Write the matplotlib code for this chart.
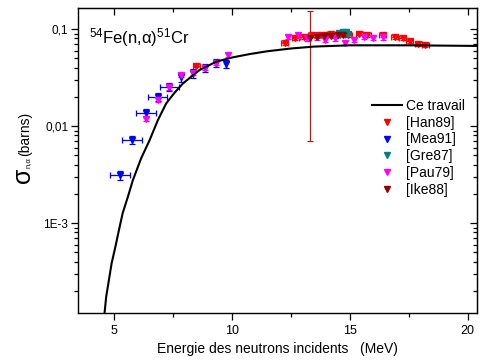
import numpy as np
import matplotlib
matplotlib.use('Agg')
import matplotlib.pyplot as plt
import matplotlib.ticker as ticker
from matplotlib.lines import Line2D

plt.rcParams['font.family'] = ['Liberation Sans', 'DejaVu Sans']
plt.rcParams['mathtext.default'] = 'regular'

# model curve (Ce travail)
curve_e = [4.62, 4.69, 4.92, 5.08, 5.23, 5.39, 5.61, 5.82, 6.17, 6.53, 6.88, 7.23, 7.58,
           7.94, 8.64, 9.35, 10.05, 10.76, 11.5, 12.5, 13.5, 15.0, 17.5, 20.4]
curve_s = [1.18e-4, 1.74e-4, 3.85e-4, 5.7e-4, 8.47e-4, 1.27e-3, 1.87e-3, 2.77e-3, 4.65e-3,
           7.17e-3, 0.01153, 0.0171, 0.0220, 0.0275, 0.0378, 0.0461, 0.0511, 0.0552,
           0.059, 0.063, 0.066, 0.068, 0.068, 0.067]

# [Han89]
han_e = [8.50, 12.25, 12.70, 13.05, 13.40, 13.70, 13.95, 14.20, 14.45, 14.70, 14.95,
         15.40, 15.75, 16.40, 16.90, 17.25, 17.55, 17.90, 18.20]
han_s = [0.042, 0.071, 0.080, 0.083, 0.086, 0.087, 0.086, 0.088, 0.087, 0.089, 0.086,
         0.090, 0.087, 0.087, 0.083, 0.080, 0.075, 0.070, 0.068]

# [Mea91]
mea_e = [5.28, 5.79, 6.38, 6.88, 7.37, 7.87, 8.36, 8.86, 9.35, 9.77]
mea_s = [0.0031, 0.0072, 0.0137, 0.020, 0.0254, 0.032, 0.035, 0.040, 0.045, 0.044]
mea_xerr = [0.42, 0.42, 0.42, 0.40, 0.42, 0.0, 0.0, 0.0, 0.0, 0.0]

# [Gre87]
gre_e = [14.55, 14.70, 14.85, 14.95]
gre_s = [0.091, 0.094, 0.093, 0.090]

# [Pau79]
pau_e = [6.38, 6.88, 7.37, 7.87, 8.36, 8.86, 9.35, 9.84,
         12.40, 12.80, 13.20, 13.60, 13.97, 14.40, 14.79, 15.20, 15.60, 15.99, 16.40]
pau_s = [0.0118, 0.0185, 0.025, 0.0336, 0.0355, 0.040, 0.045, 0.054,
         0.083, 0.086, 0.080, 0.082, 0.078, 0.080, 0.072, 0.077, 0.083, 0.081, 0.082]

# [Ike88]
ike_e = [13.34, 13.60, 13.90, 14.20, 14.50, 14.70]
ike_s = [0.080, 0.083, 0.084, 0.085, 0.086, 0.087]
ike_yerr = [0.073, 0.003, 0.003, 0.003, 0.003, 0.003]

colors = ['#ff0000', '#0000ff', '#008080', '#ff00ff', '#8b0000']

fig = plt.figure(figsize=(4.82, 3.62), dpi=100)
ax = fig.add_axes([0.162, 0.135, 0.828, 0.843])

ax.plot(curve_e, curve_s, color='black', lw=1.5, zorder=5)

ms = 4.6
eb = dict(fmt='v', ms=ms, capsize=2, elinewidth=0.9, capthick=0.9, zorder=4)
ax.errorbar(han_e, han_s, xerr=0.15, yerr=np.array(han_s) * 0.04, color=colors[0], **eb)
ax.errorbar(mea_e, mea_s, xerr=mea_xerr, yerr=np.array(mea_s) * 0.1, color=colors[1], **eb)
ax.errorbar(gre_e, gre_s, xerr=0.1, yerr=np.array(gre_s) * 0.04, color=colors[2], **eb)
ax.errorbar(pau_e, pau_s, yerr=np.array(pau_s) * 0.05, color=colors[3], **eb)
ax.errorbar(ike_e, ike_s, yerr=ike_yerr, color=colors[4], ecolor='#a52020', **eb)

ax.set_yscale('log')
ax.set_xlim(3.5, 20.4)
ax.set_ylim(1.18e-4, 0.165)

ax.xaxis.set_major_locator(ticker.FixedLocator([5, 10, 15, 20]))
ax.xaxis.set_minor_locator(ticker.FixedLocator([7.5, 12.5, 17.5]))
ax.yaxis.set_major_locator(ticker.FixedLocator([1e-3, 1e-2, 1e-1]))
ax.yaxis.set_major_formatter(ticker.FixedFormatter(['1E-3', '0,01', '0,1']))
ax.yaxis.set_minor_locator(ticker.LogLocator(subs=np.arange(2, 10)))
ax.yaxis.set_minor_formatter(ticker.NullFormatter())
ax.tick_params(which='major', direction='out', length=5, width=0.9, labelsize=9)
ax.tick_params(which='minor', direction='out', length=3, width=0.9)
ax.tick_params(axis='y', labelsize=8.5, pad=2)

top = ax.secondary_xaxis('top')
top.xaxis.set_major_locator(ticker.FixedLocator([5, 10, 15, 20]))
top.xaxis.set_minor_locator(ticker.FixedLocator([7.5, 12.5, 17.5]))
top.tick_params(which='major', direction='in', length=5, width=0.9, labeltop=False)
top.tick_params(which='minor', direction='in', length=3, width=0.9)
right = ax.secondary_yaxis('right')
right.yaxis.set_major_locator(ticker.FixedLocator([1e-3, 1e-2, 1e-1]))
right.yaxis.set_minor_locator(ticker.LogLocator(subs=np.arange(2, 10)))
right.yaxis.set_minor_formatter(ticker.NullFormatter())
right.tick_params(which='major', direction='in', length=5, width=0.9, labelright=False)
right.tick_params(which='minor', direction='in', length=3, width=0.9)

for s in ax.spines.values():
    s.set_linewidth(1.0)

ax.set_xlabel('Energie des neutrons incidents   (MeV)', fontsize=10, labelpad=4)
fig.text(0.048, 0.517, 'σ', rotation=90, fontsize=18, ha='center', va='center')
fig.text(0.058, 0.552, 'n,α', rotation=90, fontsize=5.5, ha='center', va='center')
fig.text(0.052, 0.63, '(barns)', rotation=90, fontsize=10, ha='center', va='center')

ax.text(0.028, 0.885, '$^{54}$Fe(n,α)$^{51}$Cr', transform=ax.transAxes, fontsize=12)

handles = [Line2D([], [], color='black', lw=1.5)]
handles += [Line2D([], [], color=c, marker='v', ms=ms, ls='none') for c in colors]
ax.legend(handles,
          ['Ce travail', '[Han89]', '[Mea91]', '[Gre87]', '[Pau79]', '[Ike88]'],
          loc='upper left', bbox_to_anchor=(0.72, 0.725), frameon=False,
          fontsize=10, handlelength=2.1, handletextpad=0.3, labelspacing=0.2,
          borderpad=0)

fig.savefig('out.png', dpi=100)
